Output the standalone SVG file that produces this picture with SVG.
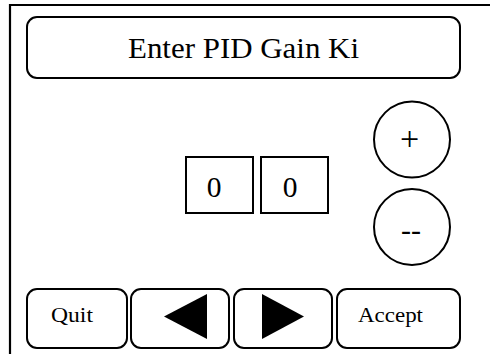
<svg xmlns="http://www.w3.org/2000/svg" width="491" height="354" viewBox="0 0 491 354">
<style>
.box{fill:#fff;stroke:#000;stroke-width:2}
text{font-family:'Liberation Serif','DejaVu Serif',serif;fill:#000}
.tri{fill:#000;stroke:none}
</style>
<rect width="491" height="354" fill="#fff"/>
<g id="frame"><path d="M10,354 V5 H490" fill="none" stroke="#000" stroke-width="2.2"/></g>
<g id="title"><rect class="box" x="27" y="17" width="433" height="61" rx="10"/><text x="128" y="58" font-size="29" textLength="231" lengthAdjust="spacingAndGlyphs">Enter PID Gain Ki</text></g>
<g id="digit1"><rect class="box" x="186" y="157" width="67" height="56"/><text x="214" y="197" font-size="29.5" text-anchor="middle">0</text></g>
<g id="digit2"><rect class="box" x="261" y="157" width="67" height="56"/><text x="290" y="197" font-size="29.5" text-anchor="middle">0</text></g>
<g id="plus"><circle class="box" cx="412" cy="139.5" r="38"/><text x="409.5" y="149.5" font-size="34" text-anchor="middle">+</text></g>
<g id="minus"><circle class="box" cx="412" cy="227" r="38"/><text x="411" y="240" font-size="30" text-anchor="middle">--</text></g>
<g id="quit"><rect class="box" x="27" y="289" width="100" height="59" rx="10"/><text x="51" y="322" font-size="22" textLength="42" lengthAdjust="spacingAndGlyphs">Quit</text></g>
<g id="left"><rect class="box" x="131" y="289" width="98" height="59" rx="10"/><polygon class="tri" points="164,316.5 207,294 207,339"/></g>
<g id="right"><rect class="box" x="234" y="289" width="98" height="59" rx="10"/><polygon class="tri" points="262,294 262,339 304,316.5"/></g>
<g id="accept"><rect class="box" x="337" y="289" width="123" height="59" rx="10"/><text x="358" y="322" font-size="22" textLength="65" lengthAdjust="spacingAndGlyphs">Accept</text></g>
<g id="connectors"/>
</svg>
